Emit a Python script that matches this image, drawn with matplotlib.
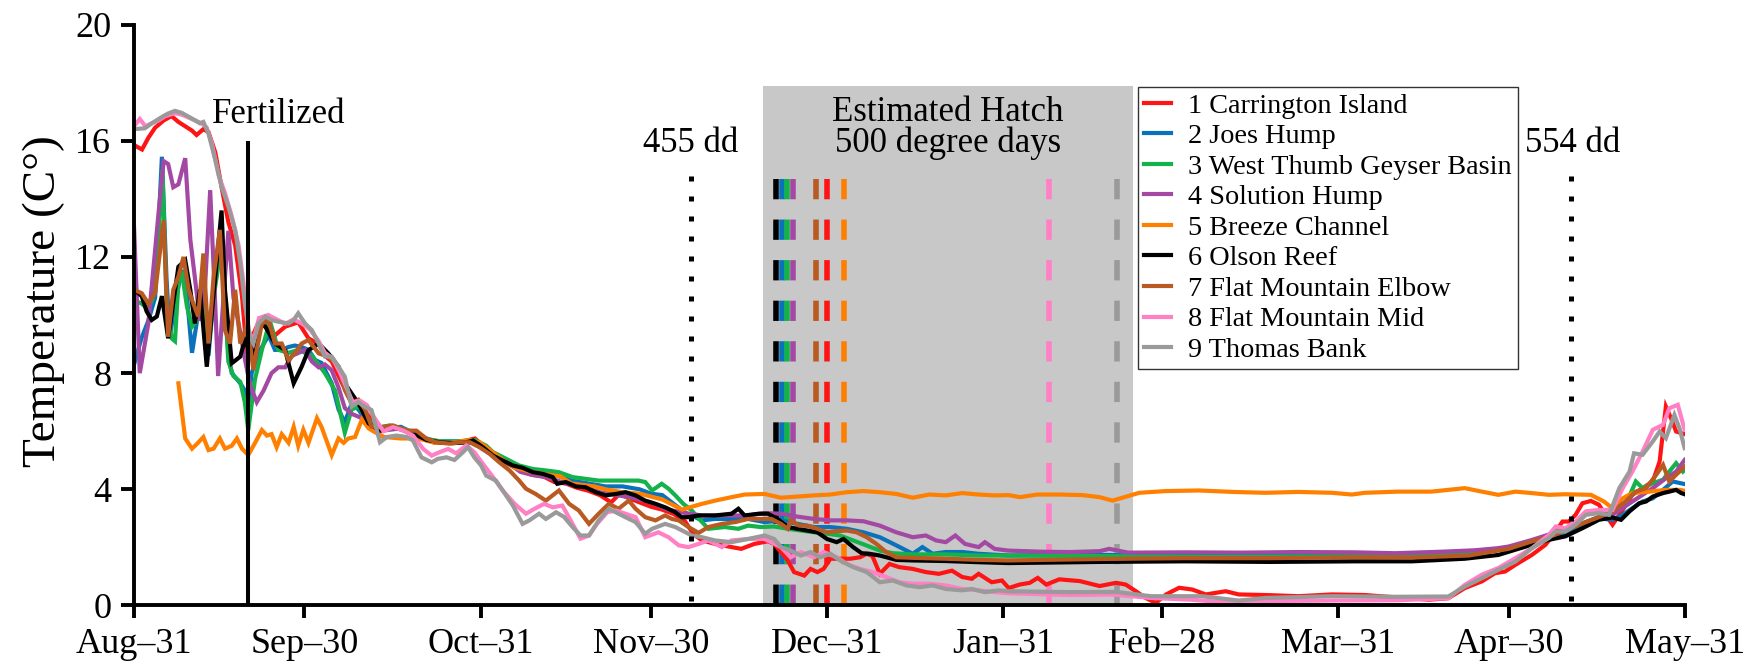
import matplotlib
matplotlib.use('Agg')
import matplotlib.pyplot as plt

plt.rcParams['font.family'] = ['Liberation Serif', 'DejaVu Serif']

# dias desde 31 de agosto
tick_days = [0, 30, 61, 91, 122, 153, 181, 212, 242, 273]
tick_labels = ['Aug\u201331', 'Sep\u201330', 'Oct\u201331', 'Nov\u201330', 'Dec\u201331',
               'Jan\u201331', 'Feb\u201328', 'Mar\u201331', 'Apr\u201330', 'May\u201331']

site_names = ['1 Carrington Island', '2 Joes Hump', '3 West Thumb Geyser Basin',
              '4 Solution Hump', '5 Breeze Channel', '6 Olson Reef',
              '7 Flat Mountain Elbow', '8 Flat Mountain Mid', '9 Thomas Bank']
site_colors = ['#ff1414', '#0a72ba', '#14b24a', '#a349a4', '#ff8000', '#000000',
               '#b85a22', '#ff80c4', '#9a9a9a']

# dia estimado de eclosao (500 graus-dia) por local
hatch_days = [122, 114, 115, 116, 125, 113, 120, 161, 173]

# 1 Carrington Island
d1 = [0, 1.4, 2.5, 3.7, 5.2, 6.6, 7.8, 9.0, 10.2, 11.0, 12.2, 13.1, 14.3, 15.5, 16.6, 17.8, 19.0, 19.8,
      20.7, 21.9, 23.1, 24.8, 26.6, 28.9, 30.7, 32.5, 33.6, 34.8, 36.5, 38, 39.5, 41, 43, 46, 49, 52, 55,
      58, 60, 62, 64, 66, 68, 70, 72, 74, 76, 78, 80, 82, 84, 85.5, 87, 89, 91, 93, 95, 97, 98.5, 100,
      102.3, 105.2, 106.9, 109.2, 111.6, 112.7, 113.9, 115.1, 116.2, 118, 119.1, 120.3, 121.4, 122.6,
      124.3, 126.1, 127.8, 129, 130, 131.3, 133, 134.7, 137.1, 139.4, 141.7, 144, 145.8, 147.5, 148.7,
      151, 152.8, 154, 155.9, 157.7, 159.1, 160.6, 162.9, 166.5, 170, 172.9, 174.6, 176.4, 178.1, 179.9,
      181.7, 184, 186.3, 188.7, 192.2, 194.5, 199.2, 205, 210.9, 216.7, 222, 228, 231.4, 234.3, 237.3,
      239.6, 241.4, 243.2, 246.1, 248.5, 250.3, 251.5, 252.6, 253.8, 255, 256.5, 257.9, 259.1, 260.3,
      261.5, 262.7, 263.8, 265.6, 267.4, 268.6, 269.7, 270.6, 271.5, 273]
t1 = [15.85, 15.7, 16.1, 16.45, 16.7, 16.85, 16.65, 16.5, 16.35, 16.2, 16.4, 16.3, 15.6, 14.3, 13.2,
      12.4, 10.65, 8.8, 9.2, 9.75, 9.8, 9.3, 9.6, 9.75, 9.2, 9.0, 8.6, 8.4, 7.7, 7.1, 6.9, 6.6, 6.1, 6.15,
      5.9, 5.7, 5.6, 5.65, 5.75, 5.4, 5.1, 4.85, 4.65, 4.5, 4.45, 4.25, 4.2, 4.05, 3.95, 3.8, 3.55, 3.85,
      3.7, 3.55, 3.4, 3.3, 3.15, 2.9, 2.45, 2.24, 2.12, 2.01, 1.95, 2.12, 2.21, 2.12, 1.84, 1.55, 1.15,
      1.03, 1.26, 1.15, 1.26, 1.61, 1.61, 1.61, 1.66, 1.78, 1.7, 1.09, 1.43, 1.32, 1.26, 1.15, 1.09, 1.2,
      0.98, 0.92, 1.09, 0.8, 0.86, 0.6, 0.72, 0.78, 0.95, 0.72, 0.9, 0.84, 0.67, 0.78, 0.72, 0.49, 0.26,
      0.09, 0.38, 0.61, 0.55, 0.38, 0.49, 0.38, 0.36, 0.32, 0.38, 0.36, 0.28, 0.2, 0.25, 0.6, 0.83, 1.11,
      1.17, 1.4, 1.74, 2.09, 2.55, 2.89, 2.89, 3.12, 3.52, 3.6, 3.47, 3.12, 2.78, 3.12, 3.47, 3.81, 4.04,
      4.27, 4.96, 6.85, 6.45, 5.99, 5.9]

# 2 Joes Hump
d2 = [0, 1.3, 2.5, 3.7, 4.9, 5.7, 6.3, 7.2, 8.4, 9.3, 10.2, 11.0, 11.9, 13.1, 14.3, 15.4, 16.6, 17.2,
      18.7, 19.5, 20.1, 20.7, 21.9, 23.7, 24.8, 26, 27.2, 28.3, 29.5, 30.7, 31.9, 33, 34.8, 36, 37.1,
      38.3, 39.5, 40.7, 41.8, 43, 47, 50, 53, 57, 60, 63, 66, 68, 71, 74, 77, 80, 83, 86, 89, 91, 93, 95,
      97, 100, 102.3, 105.2, 108.1, 111, 113.9, 116.8, 119.7, 122.6, 125.5, 128.4, 131.3, 134.2, 137.1,
      138.8, 140.6, 142.9, 145.8, 148.7, 153.9, 165, 175, 190, 205, 222, 232, 238, 242, 246, 250, 254,
      258, 260.3, 262.1, 263.8, 265.6, 267.4, 269.2, 270.9, 273]
t2 = [8.3, 9.2, 9.8, 10.6, 15.45, 11.3, 9.25, 10.4, 11.55, 10.65, 8.7, 9.7, 11.1, 8.6, 11.3, 12.7, 8.6,
      8.0, 7.65, 7.4, 6.9, 8.0, 8.7, 9.3, 8.8, 8.8, 8.9, 8.95, 8.9, 8.8, 8.45, 8.35, 7.65, 6.75, 6.3, 6.95,
      6.75, 6.4, 6.15, 6.1, 6.15, 5.85, 5.65, 5.65, 5.65, 5.25, 4.95, 4.75, 4.6, 4.5, 4.3, 4.2, 4.1, 4.1,
      4.0, 3.85, 3.8, 3.5, 3.2, 2.93, 2.98, 2.98, 2.98, 2.87, 2.93, 2.81, 2.7, 2.7, 2.64, 2.52, 2.35, 2.07,
      1.78, 2.01, 1.78, 1.84, 1.84, 1.78, 1.72, 1.75, 1.73, 1.72, 1.73, 1.72, 1.76, 1.85, 1.98, 2.15,
      2.35, 2.65, 3.0, 2.95, 3.12, 3.35, 3.58, 3.69, 3.98, 4.27, 4.18]

# 3 West Thumb Geyser Basin
d3 = [0, 1.3, 2.5, 3.7, 5.0, 5.7, 6.6, 7.2, 7.8, 8.4, 9.3, 10.2, 11.0, 11.9, 13.1, 14.3, 15.4, 16.6,
      17.5, 18.7, 19.5, 20.1, 21.3, 22.5, 23.9, 25.4, 27.2, 28.9, 31.3, 33.6, 35.4, 37.1, 38.3, 39.5,
      41.3, 42.5, 45, 48, 51, 54, 57, 60, 62, 63.2, 65.5, 67.8, 70.2, 72.5, 74.8, 77.2, 79.5, 81.8, 84.2,
      86.5, 88.8, 90, 91.2, 92.9, 94.1, 95.3, 96.7, 98.2, 99.4, 101.1, 104, 106.4, 108.1, 110.4, 112.7,
      115.1, 117.4, 119.7, 122, 124.3, 126.6, 128.9, 131.3, 133.6, 137.1, 142.9, 148.7, 153.9, 170, 190,
      210, 222, 235, 242, 246, 250, 254, 258, 260.3, 262.6, 264.4, 265.6, 267.4, 269.2, 270.3, 271.5,
      272.7, 273]
t3 = [10.5, 10.4, 10.2, 10.8, 15.0, 10.5, 9.2, 9.1, 11.1, 11.5, 10.3, 9.6, 9.8, 11.0, 9.0, 11.0, 12.4,
      8.4, 7.9, 7.7, 7.0, 6.04, 7.8, 8.8, 9.8, 8.8, 8.7, 8.8, 8.6, 8.0, 7.4, 5.95, 6.75, 6.85, 6.4, 6.1,
      6.2, 6.05, 5.75, 5.65, 5.65, 5.7, 5.5, 5.28, 5.05, 4.82, 4.7, 4.65, 4.59, 4.42, 4.36, 4.3, 4.3, 4.3,
      4.3, 4.25, 3.96, 4.19, 4.02, 3.79, 3.5, 3.27, 3.0, 2.64, 2.7, 2.64, 2.75, 2.7, 2.72, 2.64, 2.58,
      2.52, 2.47, 2.41, 2.24, 2.07, 1.89, 1.8, 1.76, 1.76, 1.72, 1.72, 1.7, 1.68, 1.69, 1.7, 1.78, 1.98,
      2.2, 2.45, 2.75, 3.05, 3.24, 3.46, 4.27, 4.04, 4.21, 4.33, 4.61, 4.9, 4.61, 4.67]

# 4 Solution Hump
d4 = [0, 1.0, 2.5, 4.3, 5.2, 6.0, 6.9, 7.8, 9.0, 9.9, 10.7, 11.6, 12.5, 13.4, 14.3, 14.8, 15.7, 16.6,
      17.5, 18.7, 19.5, 20.4, 21.6, 22.8, 24.2, 25.4, 26.6, 27.8, 29, 30.1, 31.3, 32.5, 33.6, 34.8, 36,
      37.1, 38.3, 39.5, 40.7, 41.8, 43, 47, 50, 53, 57, 60, 63, 66, 68, 70, 73, 76, 79, 82, 85, 88, 91,
      94, 97.7, 100, 102.3, 105.2, 108.1, 111, 113.9, 116.8, 119.7, 122.6, 125.5, 128.4, 131.3, 134.2,
      137.1, 139.4, 141.2, 142.9, 144.6, 146.3, 148.7, 149.8, 151.5, 153.9, 160, 165, 170, 171.7, 175,
      185, 195, 205, 215, 222, 230, 236, 240, 242, 246, 250, 254, 258, 260.3, 263.8, 267.4, 269.7, 271.5,
      273]
t4 = [13.0, 8.0, 9.7, 13.5, 15.3, 15.2, 14.4, 14.5, 15.4, 12.6, 11.3, 9.8, 11.0, 14.3, 10.3, 7.9, 10.5,
      12.9, 10.6, 9.4, 8.5, 7.6, 7.0, 7.4, 8.0, 8.2, 8.2, 8.6, 8.7, 8.8, 8.4, 8.2, 8.3, 8.1, 7.5, 6.8, 6.6,
      6.5, 6.4, 6.2, 6.0, 6.1, 5.8, 5.6, 5.6, 5.6, 5.2, 4.9, 4.6, 4.5, 4.4, 4.2, 4.1, 3.9, 3.8, 3.7, 3.55,
      3.3, 3.16, 3.1, 3.1, 3.1, 3.1, 3.18, 3.16, 3.06, 2.98, 2.93, 2.93, 2.9, 2.75, 2.52, 2.35, 2.41,
      2.24, 2.18, 2.41, 2.12, 2.01, 2.18, 1.95, 1.89, 1.85, 1.84, 1.87, 1.95, 1.82, 1.83, 1.82, 1.84,
      1.83, 1.8, 1.85, 1.9, 1.97, 2.03, 2.25, 2.5, 2.75, 3.05, 3.12, 3.58, 4.04, 4.38, 4.61, 5.01]

# 5 Breeze Channel
d5 = [7.8, 9.0, 10.2, 11.0, 12.2, 13.1, 14.0, 15.1, 16.0, 17.2, 18.1, 19.0, 20.1, 21.3, 22.5, 23.4, 24.2,
      25.1, 26.0, 27.2, 28.1, 28.9, 29.8, 30.7, 32.2, 33.0, 34.8, 36.0, 36.9, 37.7, 38.9, 40.1, 41.3,
      42.1, 44, 47, 50, 53, 56, 59, 61, 63, 65, 67, 70, 73, 75, 77, 79, 81, 83, 86, 89, 91, 93, 95, 96.5,
      98.2, 100, 102.3, 105.2, 107.5, 111, 113.9, 116.8, 119.7, 122.6, 125.5, 128.4, 131.3, 134.2,
      137.1, 140, 142.9, 145.8, 148.7, 151.5, 154, 156, 159, 163, 167, 170, 172.3, 174, 177, 181.7,
      187.5, 193.4, 199.2, 205, 210.9, 214.4, 216.7, 222.5, 228.4, 234.3, 237.3, 240.2, 243.2, 246.1,
      249.1, 252, 256.5, 258.8, 260.3, 262.1, 263.8, 266.8, 269.7, 272.1, 273]
t5 = [7.65, 5.75, 5.4, 5.55, 5.8, 5.35, 5.4, 5.75, 5.4, 5.5, 5.75, 5.4, 5.18, 5.6, 6.04, 5.85, 5.9, 5.45,
      5.9, 5.6, 6.15, 5.5, 6.05, 5.6, 6.45, 6.15, 5.18, 5.75, 5.6, 5.75, 5.8, 6.4, 6.1, 6.0, 5.8, 5.75,
      5.75, 5.6, 5.6, 5.7, 5.6, 5.3, 5.0, 4.75, 4.6, 4.5, 4.45, 4.2, 4.15, 4.1, 4.0, 3.9, 3.85, 3.75, 3.65,
      3.45, 3.3, 3.4, 3.5, 3.61, 3.73, 3.82, 3.84, 3.71, 3.75, 3.79, 3.82, 3.9, 3.94, 3.9, 3.84, 3.71,
      3.82, 3.79, 3.87, 3.82, 3.79, 3.8, 3.73, 3.82, 3.82, 3.8, 3.73, 3.61, 3.71, 3.88, 3.94, 3.96, 3.91,
      3.88, 3.91, 3.88, 3.82, 3.88, 3.92, 3.92, 4.04, 3.92, 3.81, 3.92, 3.87, 3.81, 3.83, 3.81, 3.58,
      3.35, 3.69, 3.87, 3.92, 3.98, 3.98, 3.95]

# 6 Olson Reef
d6 = [0, 1.35, 2.2, 3.1, 4.0, 4.9, 6.0, 7.8, 9.0, 9.9, 10.7, 11.6, 12.8, 14.3, 15.4, 16.0, 17.2, 18.7,
      19.5, 20.7, 21.9, 23.1, 24.8, 26.6, 28.1, 29.5, 30.7, 32.5, 34.2, 36, 37.1, 38.3, 39.5, 41.3, 43.3,
      45.6, 48.6, 51.5, 53.8, 56.2, 58.5, 59.7, 61.4, 63.2, 64.9, 66.7, 68.4, 70.2, 72, 73.7, 74.5, 76,
      77.8, 79.5, 81.3, 83, 84.8, 86.5, 88.3, 90, 91.8, 93.5, 95.3, 96.4, 97.6, 99.4, 102.3, 105.2, 106.4,
      107.5, 110, 111.6, 113.3, 115.1, 116.8, 118.5, 120.3, 122, 123.7, 124.9, 126.6, 128.1, 129.5,
      131.3, 134.2, 137.1, 142.9, 148.7, 153.9, 170, 185, 200, 215, 225, 234.3, 240.2, 243.2, 246.1,
      249.1, 252, 255, 257.9, 260.3, 261.8, 263.3, 265, 266.2, 267.4, 269.2, 270.3, 271.5, 272.4, 273]
t6 = [10.87, 10.65, 10.13, 9.83, 9.95, 10.65, 9.2, 11.66, 11.89, 10.87, 9.71, 10.87, 8.22, 11.32, 13.6,
      10.87, 8.34, 8.57, 9.14, 8.57, 9.71, 9.6, 9.02, 8.79, 7.65, 8.22, 8.79, 9.02, 8.68, 8.22, 7.65, 7.3,
      6.96, 6.27, 6.02, 6.14, 5.97, 5.7, 5.62, 5.59, 5.62, 5.68, 5.45, 5.16, 4.99, 4.82, 4.74, 4.59, 4.53,
      4.42, 4.19, 4.25, 4.1, 4.07, 3.9, 3.79, 3.84, 3.9, 3.79, 3.61, 3.5, 3.38, 3.21, 3.04, 3.04, 3.1, 3.1,
      3.16, 3.33, 3.1, 3.16, 3.16, 2.98, 2.7, 2.64, 2.58, 2.52, 2.29, 2.18, 2.29, 2.01, 1.8, 1.78, 1.72,
      1.57, 1.55, 1.53, 1.49, 1.46, 1.5, 1.52, 1.5, 1.52, 1.52, 1.61, 1.74, 1.92, 2.09, 2.26, 2.38, 2.66,
      2.95, 3.03, 2.95, 3.24, 3.52, 3.58, 3.75, 3.87, 3.92, 3.98, 3.87, 3.83]

# 7 Flat Mountain Elbow
d7 = [0, 1.35, 2.5, 3.7, 5.2, 6.0, 6.9, 7.8, 8.7, 9.6, 10.4, 11.3, 12.2, 13.1, 14.0, 15.1, 16.0, 16.9,
      17.8, 18.7, 19.6, 20.4, 21.0, 21.6, 22.5, 23.7, 24.8, 26.0, 27.2, 28.3, 29.5, 30.7, 32.5, 34.2,
      36.0, 37.1, 38.3, 39.5, 40.7, 41.8, 43.3, 45.6, 48, 49.7, 51.5, 53.2, 55.6, 57.3, 59.1, 60.8, 62.6,
      64.3, 66.1, 67.8, 69, 70.7, 72.5, 74.8, 76.6, 78.3, 80.1, 81.8, 83.6, 85.3, 87.1, 88.3, 90, 91.8,
      93.5, 94.7, 95.9, 97.6, 99.4, 101.1, 103.5, 105.8, 108.1, 110.4, 112.2, 113.9, 115.1, 115.6, 117.1,
      118.5, 120.3, 122, 123.7, 125.5, 127.2, 129, 130.7, 132.4, 134.2, 137.1, 142.9, 148.7, 153.9, 170,
      185, 200, 215, 225, 235, 242, 246, 250, 254, 258, 260.3, 262.6, 264.4, 266.2, 268, 269.2, 270.3,
      271.5, 273]
t7 = [10.87, 10.75, 10.4, 10.75, 13.27, 9.25, 10.87, 11.32, 12.0, 10.87, 10.41, 9.95, 12.12, 9.02, 11.32,
      12.93, 9.48, 9.02, 10.87, 9.02, 9.5, 9.02, 8.11, 8.79, 9.71, 9.83, 9.02, 9.02, 8.45, 8.68, 9.02,
      9.14, 8.68, 8.57, 8.22, 7.42, 6.96, 7.08, 6.73, 6.16, 6.14, 6.2, 6.02, 6.02, 5.74, 5.62, 5.57, 5.62,
      5.62, 5.45, 5.22, 4.93, 4.65, 4.3, 4.02, 3.84, 3.61, 3.96, 3.5, 3.27, 2.81, 3.16, 3.5, 3.33, 3.61,
      3.33, 3.04, 2.93, 3.1, 2.98, 2.93, 2.7, 2.5, 2.7, 2.81, 2.87, 2.98, 2.98, 2.98, 2.81, 2.64, 2.93,
      2.75, 2.75, 2.64, 2.52, 2.56, 2.58, 2.52, 2.35, 2.12, 1.84, 1.66, 1.64, 1.61, 1.57, 1.55, 1.6, 1.63,
      1.63, 1.66, 1.65, 1.72, 1.95, 2.2, 2.42, 2.75, 3.05, 3.24, 3.58, 3.92, 4.04, 4.5, 4.84, 4.27, 4.5,
      4.78]

# 8 Flat Mountain Mid
d8 = [0, 1.0, 2.0, 3.1, 4.3, 5.5, 7.2, 8.4, 9.6, 10.7, 11.9, 12.8, 13.7, 14.9, 16.0, 17.2, 18.4, 19.2,
      20.1, 21.0, 22.0, 23.6, 25.1, 26.6, 28.1, 29.6, 31, 32.5, 33.6, 35, 36.3, 37.4, 38.5, 39.8, 41, 42.2,
      43.9, 45.6, 47.4, 49.1, 50.9, 52.4, 53.8, 55.3, 56.7, 58.5, 59.9, 61.4, 63.2, 64.9, 67, 69, 70.5,
      72.2, 73.7, 75.4, 77.2, 78.6, 80.1, 81.5, 83.3, 84.8, 86.5, 88.3, 90, 92.3, 94.1, 95.9, 97.6, 99.4,
      101.1, 103.5, 105.2, 108.1, 111, 113.9, 115.6, 117.4, 119.7, 121.4, 123.7, 125.5, 127.8, 130.1,
      132.4, 134.7, 137.1, 140, 142.9, 145.8, 148.7, 151.5, 153.9, 165, 172, 179, 186, 193.5, 199.2,
      210.9, 222.5, 231.4, 234.3, 237.3, 240.2, 243.2, 246.1, 249.1, 250.3, 252, 253.8, 255.6, 257.9,
      260.3, 262.1, 263.8, 265.6, 267.4, 269.2, 270.3, 271.8, 273]
t8 = [16.5, 16.75, 16.5, 16.6, 16.7, 16.85, 16.95, 16.9, 16.8, 16.7, 16.6, 16.45, 15.9, 14.8, 14.2, 13.4,
      12.4, 11.2, 9.5, 9.1, 9.9, 10.0, 9.85, 9.7, 9.85, 9.7, 9.5, 9.1, 8.7, 8.5, 8.0, 7.5, 7.0, 7.05, 6.9,
      6.5, 6.0, 6.14, 6.02, 5.85, 5.39, 5.16, 5.28, 5.39, 5.24, 5.51, 5.28, 4.88, 4.42, 3.96, 3.5, 3.16,
      3.33, 3.5, 3.38, 3.44, 2.81, 2.3, 2.41, 2.81, 3.21, 3.27, 3.16, 3.04, 2.35, 2.52, 2.35, 2.07, 2.01,
      2.12, 2.24, 2.01, 2.24, 2.29, 2.29, 2.01, 1.66, 1.84, 1.66, 1.84, 1.66, 1.43, 1.26, 1.15, 0.98, 0.8,
      0.75, 0.75, 0.69, 0.57, 0.52, 0.46, 0.42, 0.36, 0.38, 0.26, 0.2, 0.09, 0.15, 0.17, 0.18, 0.25, 0.71,
      1.06, 1.29, 1.63, 1.97, 2.43, 2.72, 2.66, 2.89, 3.24, 3.29, 3.29, 4.04, 4.61, 5.3, 6.05, 6.22, 6.79,
      6.91, 6.05]

# 9 Thomas Bank
d9 = [0, 1.9, 3.1, 4.9, 6.0, 7.2, 8.4, 9.6, 10.7, 11.6, 12.2, 13.1, 14.3, 15.4, 16.6, 17.8, 18.7, 19.5,
      20.4, 21.0, 21.9, 23.1, 24.2, 25.4, 27.2, 28.1, 28.9, 30.1, 31.3, 32.5, 33.6, 34.8, 36.0, 37.1,
      38.3, 39.5, 40.7, 41.8, 43.3, 44.5, 46.2, 48, 49.1, 50.6, 52.4, 53.5, 55, 56.4, 57.6, 58.8, 59.9,
      61.1, 62, 63.7, 64.9, 66.7, 68.4, 69.6, 71.3, 72.5, 74.3, 75.7, 77.2, 78.6, 80.1, 81.8, 83.6, 85.3,
      86.5, 88.3, 90, 91.2, 93.5, 95.3, 96.5, 98.2, 100, 102.3, 105.2, 108.1, 111, 112.7, 113.9, 115.6,
      117.4, 119.1, 120.8, 122.6, 124.3, 126.6, 129, 131.3, 133.6, 136, 138.3, 140.6, 142.9, 145.8,
      147.5, 149.8, 152.2, 154, 165, 172.9, 179, 188, 194.5, 199.2, 210.9, 222.5, 231.4, 234.3, 237.3,
      240.2, 243.2, 246.1, 249.1, 250.3, 252, 253.8, 255.6, 257.9, 259.7, 261.5, 263.3, 264.1, 265.6,
      267.4, 268.6, 269.7, 271.2, 272.1, 273]
t9 = [16.4, 16.43, 16.6, 16.82, 16.94, 17.03, 16.96, 16.83, 16.71, 16.6, 16.65, 16.25, 15.34, 14.42,
      13.73, 12.93, 11.78, 10.41, 9.25, 9.02, 9.71, 9.95, 9.83, 9.77, 9.71, 9.83, 10.06, 9.71, 9.48, 9.02,
      8.57, 8.57, 8.22, 7.88, 6.85, 7.0, 6.83, 6.73, 5.62, 5.8, 5.85, 5.8, 5.68, 5.1, 4.93, 5.05, 5.1,
      5.01, 5.22, 5.45, 5.1, 4.82, 4.47, 4.3, 3.96, 3.44, 2.81, 2.93, 3.16, 2.98, 3.21, 3.05, 2.7, 2.41,
      2.41, 2.93, 3.33, 3.16, 3.04, 2.87, 2.47, 2.64, 2.81, 2.7, 2.58, 2.41, 2.35, 2.24, 2.18, 2.29, 2.41,
      2.29, 2.01, 1.89, 1.72, 1.84, 1.66, 1.78, 1.55, 1.32, 1.15, 0.8, 0.86, 0.69, 0.63, 0.69, 0.57, 0.52,
      0.57, 0.46, 0.52, 0.49, 0.46, 0.47, 0.32, 0.32, 0.17, 0.26, 0.32, 0.3, 0.31, 0.65, 0.94, 1.23, 1.51,
      1.97, 2.32, 2.55, 2.55, 2.78, 3.12, 3.18, 3.12, 4.04, 4.61, 5.24, 5.19, 5.65, 5.99, 5.76, 6.56, 6.1,
      5.42]

all_days = [d1, d2, d3, d4, d5, d6, d7, d8, d9]
all_temps = [t1, t2, t3, t4, t5, t6, t7, t8, t9]

fig = plt.figure(figsize=(17.55, 6.65), dpi=100)
ax = fig.add_axes([0.0764, 0.0895, 0.8835, 0.8735])

# janela estimada de eclosao
ax.axvspan(110.7, 175.9, ymin=0, ymax=17.87 / 20, color='#c8c8c8', lw=0, zorder=0)

# linhas tracejadas de eclosao por local
for hd, cor in zip(hatch_days, site_colors):
    ax.plot([hd, hd], [14.67, 0], color=cor, lw=4, dashes=(3.65, 3.65),
            solid_capstyle='butt', dash_capstyle='butt', zorder=1)

# series de temperatura
for dias, temps, nome, cor in zip(all_days, all_temps, site_names, site_colors):
    ax.plot(dias, temps, color=cor, lw=3.0, label=nome, zorder=2, solid_joinstyle='miter')

# fertilizacao e graus-dia
ax.plot([20, 20], [0, 16.0], color='black', lw=2.9, zorder=4, solid_capstyle='butt')
for dd in [98, 253]:
    ax.plot([dd, dd], [14.8, 0], color='black', lw=3.6, dashes=(1, 3),
            dash_capstyle='butt', zorder=4)

ax.text(13.8, 16.6, 'Fertilized', fontsize=25, ha='left', va='baseline')
ax.text(98, 15.6, '455 dd', fontsize=25, ha='center', va='baseline')
ax.text(253.3, 15.6, '554 dd', fontsize=25, ha='center', va='baseline')
ax.text(143.3, 15.6, 'Estimated Hatch\n500 degree days', fontsize=25, ha='center',
        va='baseline', linespacing=0.93, multialignment='center')

ax.set_xlim(0, 273)
ax.set_ylim(0, 20)
ax.set_xticks(tick_days)
ax.set_xticklabels(tick_labels)
ax.set_yticks([0, 4, 8, 12, 16, 20])
ax.tick_params(axis='both', labelsize=26, length=9.4, width=2.8, direction='out')
ax.tick_params(axis='x', pad=6.5)
ax.tick_params(axis='y', pad=7)
for lado in ['top', 'right']:
    ax.spines[lado].set_visible(False)
for lado in ['left', 'bottom']:
    ax.spines[lado].set_linewidth(2.8)

ax.set_ylabel('Temperature (C\u00b0)', fontsize=34)
ax.yaxis.set_label_coords(-0.0445, 0.524)

leg = ax.legend(loc='upper left', bbox_to_anchor=(0.6475, 0.893), borderaxespad=0,
                fontsize=20.3, frameon=True, fancybox=False, framealpha=1,
                edgecolor='#333333', labelspacing=0.17, handlelength=0.95,
                handletextpad=0.6, borderpad=0.22)
leg.get_frame().set_linewidth(1.0)
leg.set_zorder(5)

fig.savefig('out.png', dpi=100)
